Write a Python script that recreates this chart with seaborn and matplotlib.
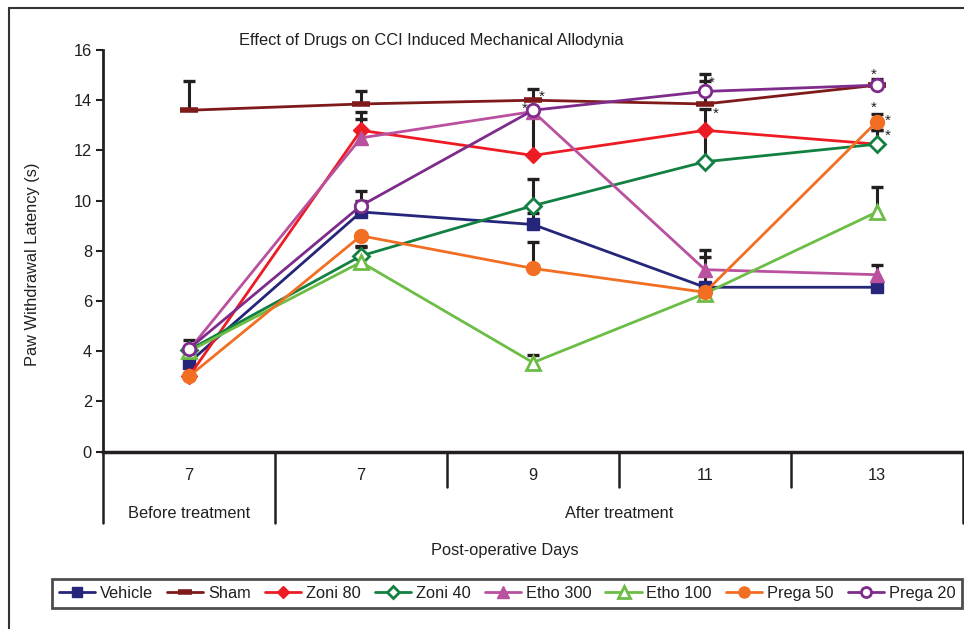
import numpy as np
import matplotlib
matplotlib.use('Agg')
import matplotlib.pyplot as plt
import seaborn as sns
from matplotlib.transforms import blended_transform_factory
from matplotlib.lines import Line2D

# ---------------- data ----------------
days = ['7', '7', '9', '11', '13']
phases = ['Before treatment', 'After treatment']
series_names = ['Vehicle', 'Sham', 'Zoni 80', 'Zoni 40', 'Etho 300', 'Etho 100', 'Prega 50', 'Prega 20']

vehicle = [3.55, 9.55, 9.05, 6.55, 6.55]
sham = [13.6, 13.85, 14.0, 13.85, 14.6]
zoni80 = [3.0, 12.8, 11.8, 12.8, 12.25]
zoni40 = [4.05, 7.8, 9.8, 11.55, 12.25]
etho300 = [4.05, 12.5, 13.55, 7.25, 7.05]
etho100 = [4.0, 7.55, 3.55, 6.3, 9.55]
prega50 = [3.0, 8.6, 7.3, 6.35, 13.15]
prega20 = [4.1, 9.8, 13.6, 14.35, 14.6]

# upper error bars (SEM)
vehicle_err = [0.0, 0.45, 0.45, 1.2, 0.0]
sham_err = [1.15, 0.5, 0.45, 0.9, 0.0]
zoni80_err = [0.0, 0.45, 1.8, 0.85, 0.55]
zoni40_err = [0.0, 0.35, 1.05, 1.25, 0.55]
etho300_err = [0.0, 1.05, 0.0, 0.8, 0.4]
etho100_err = [0.0, 0.65, 0.3, 0.0, 1.0]
prega50_err = [0.0, 0.0, 1.05, 0.0, 0.3]
prega20_err = [0.35, 0.6, 0.0, 0.7, 0.25]

# significance stars (x = day index, y = value)
star_x = [1.95, 2.05, 3.04, 3.06, 3.98, 3.98, 4.06, 4.06]
star_y = [13.65, 14.15, 14.7, 13.45, 15.0, 13.7, 13.2, 12.6]

values = [vehicle, sham, zoni80, zoni40, etho300, etho100, prega50, prega20]
errors = [vehicle_err, sham_err, zoni80_err, zoni40_err, etho300_err, etho100_err, prega50_err, prega20_err]

# ---------------- styles ----------------
colors = ['#25257a', '#7f1a1a', '#ed1c24', '#118040', '#b9519f', '#6cbd45', '#f26e22', '#7e2b8b']
markers = ['s', '_', 'D', 'D', '^', '^', 'o', 'o']
filled = [True, True, True, False, True, False, True, False]
msizes = [9, 13, 8, 8, 10, 10, 10, 9]

sns.set_theme(style='ticks')
plt.rcParams['font.family'] = ['Liberation Sans', 'DejaVu Sans']
TXT = '#231f20'
FS = 11.8

W, H = 964, 629
fig = plt.figure(figsize=(W / 100, H / 100), dpi=100)
y0_px, y16_px = 451.7, 50
ax = fig.add_axes([103 / W, 1 - y0_px / H, 860 / W, (y0_px - y16_px) / H])

xpos = np.arange(len(days))
handles = []
for name, vals, err, c, m, f, ms in zip(series_names, values, errors, colors, markers, filled, msizes):
    vals = np.array(vals)
    err = np.array(err)
    mask = err > 0
    ax.vlines(xpos[mask], vals[mask], vals[mask] + err[mask], color=TXT, lw=2.2, zorder=2)
    ax.plot(xpos[mask], vals[mask] + err[mask], ls='none', marker='_', ms=9, mew=2.4, color=TXT, zorder=2)
    mew = 4 if m == '_' else (2 if not f else 1)
    sns.lineplot(x=xpos, y=vals, ax=ax, color=c, marker=m, markersize=ms,
                 markerfacecolor=(c if f else 'white'), markeredgecolor=c,
                 markeredgewidth=mew, linewidth=2, zorder=3, legend=False)
    ln = ax.lines[-1]
    ln.set_label(name)
    handles.append(ln)

for sx, sy in zip(star_x, star_y):
    ax.text(sx, sy, '*', ha='center', va='center', fontsize=11, color=TXT, zorder=5)

ax.set_xlim(-0.5, len(days) - 0.5)
ax.set_ylim(0, 16)
ax.set_yticks(range(0, 17, 2))
ax.set_xticks([])
ax.tick_params(axis='y', direction='out', length=5, width=1.5, labelsize=FS, pad=3,
               colors=TXT, left=True)
ax.set_xlabel('')
ax.set_ylabel('')
for s in ['top', 'right']:
    ax.spines[s].set_visible(False)
ax.spines['left'].set_linewidth(2)
ax.spines['left'].set_color(TXT)
ax.spines['bottom'].set_linewidth(2.5)
ax.spines['bottom'].set_color(TXT)

# category table below the axis
trans = blended_transform_factory(ax.transData, fig.transFigure)
ytop = 1 - y0_px / H
ylong = 1 - 523 / H
yshort = 1 - 487 / H
for xb in np.arange(-0.5, len(days), 1.0):
    yend = ylong if xb in (-0.5, 0.5, len(days) - 0.5) else yshort
    ax.plot([xb, xb], [ytop, yend], transform=trans, clip_on=False, color=TXT, lw=1.8)
for i, d in enumerate(days):
    ax.text(i, 1 - 476 / H, d, transform=trans, ha='center', va='center', fontsize=FS, color=TXT)
ax.text(0, 1 - 513 / H, phases[0], transform=trans, ha='center', va='center', fontsize=FS, color=TXT)
ax.text(2.5, 1 - 513 / H, phases[1], transform=trans, ha='center', va='center', fontsize=FS, color=TXT)

fig.text(505 / W, 1 - 550 / H, 'Post-operative Days', ha='center', va='center', fontsize=FS, color=TXT)
fig.text(431 / W, 1 - 40 / H, 'Effect of Drugs on CCI Induced Mechanical Allodynia',
         ha='center', va='center', fontsize=FS, color=TXT)
fig.text(33 / W, 1 - 264 / H, 'Paw Withdrawal Latency (s)', rotation=90,
         ha='center', va='center', fontsize=FS, color=TXT)

leg = fig.legend(handles, series_names, loc='center',
                 bbox_to_anchor=(52 / W, 1 - 613 / H, 910 / W, 39 / H), mode='expand',
                 ncol=8, frameon=True, fancybox=False, edgecolor=TXT, handlelength=2.2,
                 handletextpad=0.3, borderaxespad=0, columnspacing=0.5, fontsize=FS,
                 markerscale=0.8)
leg.get_frame().set_linewidth(2)
for t in leg.get_texts():
    t.set_color(TXT)

# outer frame
fig.add_artist(Line2D([9 / W, 9 / W], [0, 1 - 8 / H], transform=fig.transFigure, color='#333333', lw=1.5))
fig.add_artist(Line2D([9 / W, 1], [1 - 8 / H, 1 - 8 / H], transform=fig.transFigure, color='#333333', lw=1.5))

fig.savefig('out.png', dpi=100, facecolor='white')
